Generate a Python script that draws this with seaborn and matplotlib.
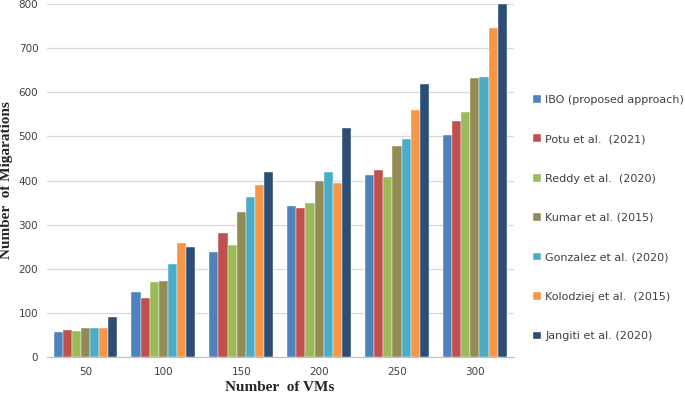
import matplotlib
matplotlib.use("Agg")
import matplotlib.pyplot as plt
import seaborn as sns
import pandas as pd

vms = ["50", "100", "150", "200", "250", "300"]
methods = ["IBO (proposed approach)", "Potu et al.  (2021)", "Reddy et al.  (2020)",
           "Kumar et al. (2015)", "Gonzalez et al. (2020)", "Kolodziej et al.  (2015)",
           "Jangiti et al. (2020)"]
ibo = [58, 148, 238, 342, 412, 503]
potu = [62, 135, 282, 337, 425, 535]
reddy = [60, 170, 255, 350, 408, 555]
kumar = [65, 172, 328, 400, 478, 632]
gonzalez = [67, 210, 362, 420, 495, 635]
kolodziej = [65, 258, 390, 395, 560, 745]
jangiti = [90, 250, 420, 520, 618, 800]
colors = ["#4F81BD", "#C0504D", "#9BBB59", "#948A54", "#4BACC6", "#F79646", "#2C4D75"]

series = [ibo, potu, reddy, kumar, gonzalez, kolodziej, jangiti]
rows = []
for m, vals in zip(methods, series):
    for v, val in zip(vms, vals):
        rows.append({"VMs": v, "Method": m, "Migrations": val})
df = pd.DataFrame(rows)

sns.set_style("white")
plt.rcParams['font.family'] = ['DejaVu Sans']
fig = plt.figure(figsize=(6.85, 3.99), dpi=100)
ax = fig.add_axes([0.068, 0.105, 0.682, 0.885])
sns.barplot(data=df, x="VMs", y="Migrations", hue="Method", palette=colors,
            width=0.82, ax=ax, edgecolor="white", linewidth=0.3, saturation=1)
ax.set_ylim(0, 800)
ax.set_yticks(range(0, 801, 100))
ax.yaxis.grid(True, color="#D9D9D9", linewidth=0.9)
ax.set_axisbelow(True)
for s in ["top", "right", "left"]:
    ax.spines[s].set_visible(False)
ax.spines["bottom"].set_color("#BFBFBF")
ax.tick_params(axis="both", length=0, labelsize=7.5, colors="#404040", pad=6)
ax.tick_params(axis="x", pad=7)
ax.set_xlabel("Number  of VMs", fontfamily="Liberation Serif", fontweight="bold", fontsize=11, labelpad=3)
ax.set_ylabel("Number  of Migarations", fontfamily="Liberation Serif", fontweight="bold", fontsize=11, labelpad=4)
ax.legend(loc="center left", bbox_to_anchor=(1.02, 0.394), frameon=False,
          fontsize=8, labelspacing=2.65, handlelength=0.7, handleheight=0.7,
          handletextpad=0.4, labelcolor="#404040")
fig.savefig("out.png", dpi=100)
